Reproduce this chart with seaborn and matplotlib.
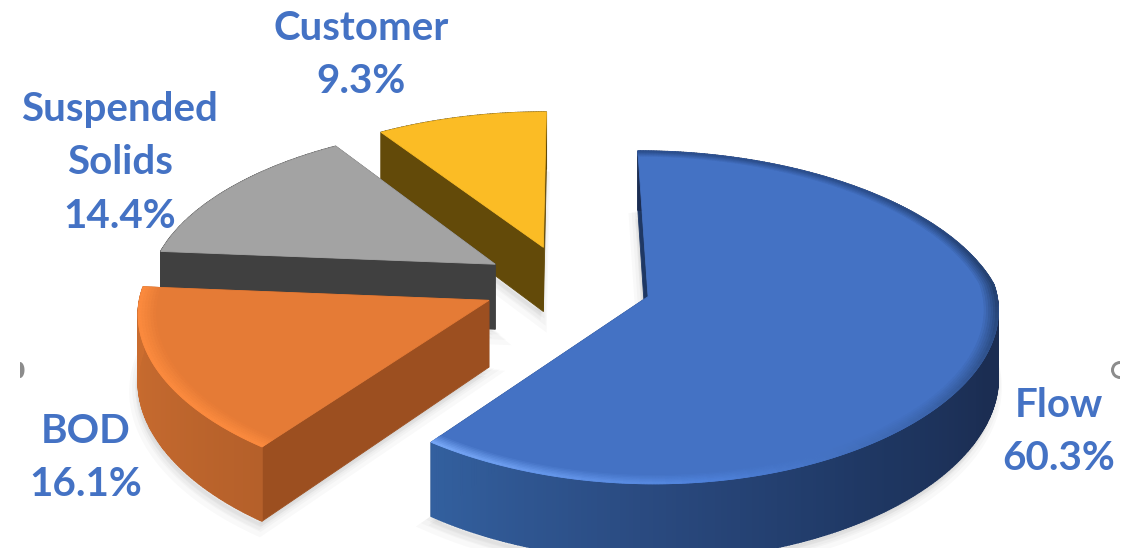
# plot.py
"""
Exploded 3D-style pie of the contribution to cost, drawn by hand on pixel axes.
"""
import numpy as np
import matplotlib
matplotlib.use("Agg")
import matplotlib.pyplot as plt
from matplotlib.patches import Wedge
import seaborn as sns

categories = ["Flow", "BOD", "Suspended\nSolids", "Customer"]
shares = [60.3, 16.1, 14.4, 9.3]

top_colors = ["#4472c4", "#e57b36", "#a3a3a3", "#fbbc25"]
cut_colors = ["#1f3864", "#9c4f20", "#404040", "#634a09"]
label_centers = [(1059, 432), (86, 458), (120, 163), (361, 55)]
label_color = "#4472c4"

# pie geometry, in picture pixels
CX, CY = 567, 284
RX, RY = 347, 160.7
PERSPECTIVE_X_FAR = 0.15
PERSPECTIVE_X_NEAR = 0.07
PERSPECTIVE_Y = 0.124
DEPTH = 66
EXPLODE = 0.245

sns.set_theme(style="white")
plt.rcParams["font.family"] = ["Lato", "DejaVu Sans"]


def project(u, v, z=0.0):
    sx = 1 / (1 + np.where(np.asarray(v) > 0, PERSPECTIVE_X_FAR, PERSPECTIVE_X_NEAR) * v)
    sy = 1 / (1 + PERSPECTIVE_Y * v)
    return CX + RX * u * sx, CY - RY * v * sy + DEPTH * z * sy


def disc_point(t, mid, radius=1.0):
    return EXPLODE * np.sin(mid) + radius * np.sin(t), EXPLODE * np.cos(mid) + radius * np.cos(t)


def top_outline(t, mid):
    au, av = disc_point(mid, mid, 0.0)
    u, v = disc_point(t, mid)
    xs, ys = project(np.r_[au, u], np.r_[av, v])
    return xs, ys


def quad(ax, p0, p1, p2, p3, color, zorder, lw=0.6):
    ax.fill([p0[0], p1[0], p2[0], p3[0]], [p0[1], p1[1], p2[1], p3[1]],
            color=color, lw=lw, zorder=zorder)


def wall_colors(index, t):
    # colour along the outer wall, following the angle round the pie
    deg = np.degrees(t)
    if index == 0:
        ramp = sns.blend_palette(["#1b2d52", "#1f3864", "#2a4a80", "#33609f"], 400)
        pos = np.clip((deg - 110) / (217 - 110), 0, 0.99)
    elif index == 1:
        ramp = sns.blend_palette(["#b5602a", "#c2682e", "#cc6d2f"], 400)
        pos = np.clip((deg - 217) / 58, 0, 0.99)
    else:
        ramp = [cut_colors[index]] * 400
        pos = np.zeros_like(deg)
    return [ramp[int(p * 400)] for p in pos]


def rim_colors(index, t):
    deg = np.degrees(t)
    if index == 0:
        ramp = sns.blend_palette(["#2c4f8e", "#2c4f8e", "#24406f", "#3a63aa", "#4f82db", "#76a6f5"], 100)
        pos = np.clip(deg / 217, 0, 0.99)
    elif index == 1:
        ramp = sns.blend_palette(["#fb8a3e", "#fb8a3e"], 100)
        pos = np.zeros_like(deg)
    else:
        ramp = sns.blend_palette([top_colors[index], top_colors[index]], 100)
        pos = np.zeros_like(deg)
    return [ramp[int(p * 100)] for p in pos]


fig = plt.figure(figsize=(11.4, 5.48), dpi=100)
ax = fig.add_axes([0, 0, 1, 1])
ax.set_xlim(0, 1140)
ax.set_ylim(548, 0)
ax.axis("off")

fractions = np.array(shares) / sum(shares)
edges = np.r_[0, np.cumsum(fractions)] * 2 * np.pi

# far slices first so the nearer ones cover them
for i in [3, 2, 1, 0]:
    a0, a1 = edges[i], edges[i + 1]
    mid = (a0 + a1) / 2
    t = np.linspace(a0, a1, int(np.degrees(a1 - a0)) * 2 + 2)
    u, v = disc_point(t, mid)
    au, av = disc_point(mid, mid, 0.0)

    # soft shadow under the slice
    xs, ys = project(np.r_[au, u], np.r_[av, v], 1.0)
    for grow in [9, 6, 3]:
        ax.fill(xs - grow * 0.3, ys + grow, color="#000000", alpha=0.025, lw=grow, zorder=i * -10 + 1)

    # cut faces from the centre out to each end of the arc
    for end in [a0, a1]:
        eu, ev = disc_point(end, mid)
        quad(ax, project(au, av), project(eu, ev), project(eu, ev, 1.0), project(au, av, 1.0),
             cut_colors[i], i * -10 + 2)

    # outer wall in thin strips for the shading
    seg_colors = wall_colors(i, t)
    for j in range(len(t) - 1):
        quad(ax, project(u[j], v[j]), project(u[j + 1], v[j + 1]),
             project(u[j + 1], v[j + 1], 1.0), project(u[j], v[j], 1.0),
             seg_colors[j], i * -10 + 3, lw=1.0)

    xs, ys = top_outline(t, mid)
    ax.fill(xs, ys, color=top_colors[i], lw=0.6, zorder=i * -10 + 4)

    # bevel along the arc, fading into the top face
    if i < 2:
        rims = rim_colors(i, t)
        bands = np.linspace(0.96, 1.0, 7) if i == 0 else np.linspace(0.95, 1.0, 7)
        for b, (r0, r1) in enumerate(zip(bands[:-1], bands[1:])):
            u0, v0 = disc_point(t, mid, r0)
            u1, v1 = disc_point(t, mid, r1)
            for j in range(len(t) - 1):
                shade = sns.blend_palette([top_colors[i], rims[j]], 7)[b + 1]
                quad(ax, project(u0[j], v0[j]), project(u0[j + 1], v0[j + 1]),
                     project(u1[j + 1], v1[j + 1]), project(u1[j], v1[j]),
                     shade, i * -10 + 5)

for name, share, (lx, ly) in zip(categories, shares, label_centers):
    ax.text(lx, ly, f"{name}\n{share:.1f}%", ha="center", va="center", color=label_color,
            fontsize=29, fontweight="bold", linespacing=1.55, zorder=10)

# the two stray handle marks at the picture's sides
theta = np.linspace(-np.pi / 2, np.pi / 2, 30)
ax.fill(20 + 4.5 * np.cos(theta), 370 + 8 * np.sin(theta), color="#8c8c8c", lw=0, zorder=10)
ax.add_patch(Wedge((1120, 370), 9, 90, 270, width=3, color="#8c8c8c", lw=0, zorder=10))

fig.savefig("out.png", dpi=100, facecolor="white")
